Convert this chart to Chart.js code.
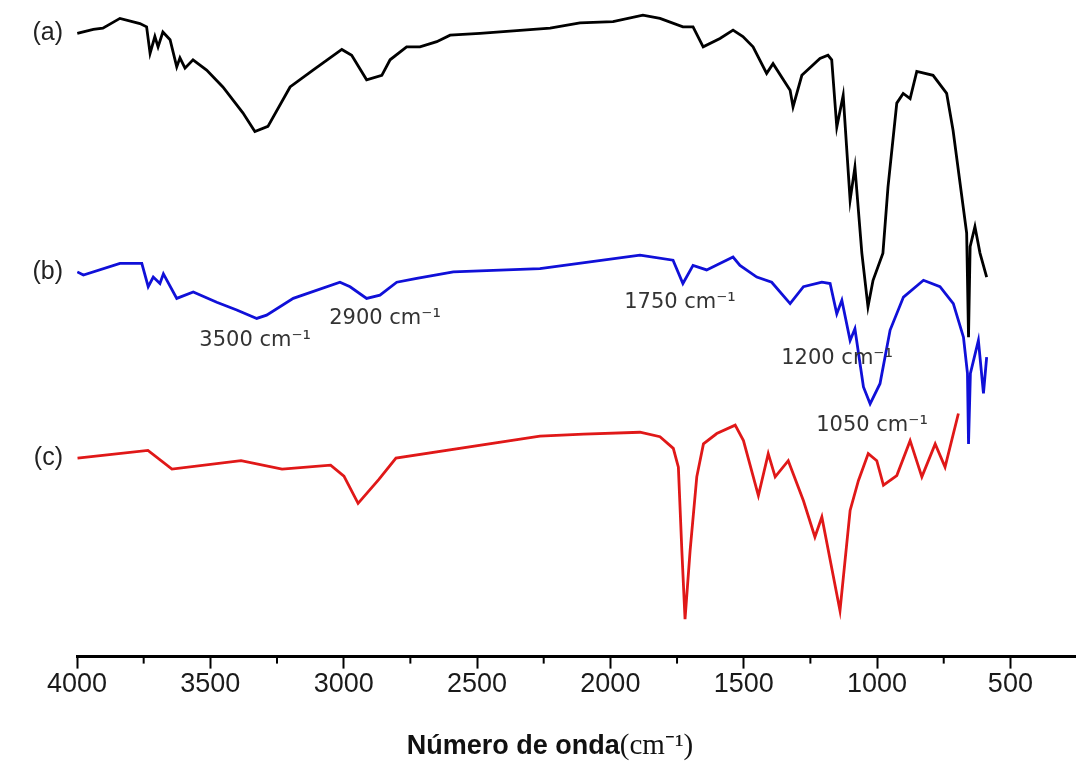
<!DOCTYPE html>
<html>
<head>
<meta charset="utf-8">
<script src="https://cdn.jsdelivr.net/npm/chart.js@4.4.0/dist/chart.umd.min.js"></script>
<style>
    html, body { margin: 0; padding: 0; background: #fff; }
    canvas { display: block; }
</style>
</head>
<body>
<canvas id="ftir" width="1076" height="767"></canvas>
<script>
// (a) black trace
const waveA = [3999, 3939, 3903, 3839, 3764, 3739, 3726, 3708, 3696, 3678, 3651, 3626, 3614, 3595, 3565, 3514, 3453, 3378, 3333, 3284,
    3201, 3115, 3007, 2970, 2914, 2857, 2826, 2764, 2714, 2651, 2601, 2489, 2226, 2114, 1990, 1878, 1814, 1728, 1690, 1652,
    1589, 1540, 1503, 1465, 1414, 1390, 1326, 1315, 1282, 1214, 1184, 1170, 1151, 1127, 1101, 1083, 1057, 1034, 1015, 978,
    959, 926, 902, 876, 851, 790, 739, 715, 664, 657, 651, 633, 614, 589];
const transA = [96.4, 97.0, 97.2, 98.7, 97.9, 97.4, 93.3, 95.9, 94.3, 96.6, 95.4, 91.2, 92.6, 91.0, 92.3, 90.7, 88.1, 84.1, 81.2, 82.0,
    88.1, 90.7, 93.9, 93.0, 89.2, 89.9, 92.3, 94.3, 94.3, 95.1, 96.1, 96.4, 97.2, 98.0, 98.2, 99.2, 98.7, 97.4, 97.4, 94.3,
    95.6, 96.9, 95.9, 94.3, 90.2, 91.7, 87.6, 85.0, 89.9, 92.5, 93.0, 92.3, 81.9, 86.8, 70.6, 75.7, 62.4, 54.1, 58.2, 62.4,
    72.6, 85.6, 87.1, 86.3, 90.5, 89.9, 87.1, 81.4, 65.5, 49.4, 63.4, 66.5, 62.4, 58.7];

// (b) blue trace
const waveB = [3999, 3976, 3839, 3757, 3733, 3714, 3689, 3676, 3626, 3564, 3476, 3401, 3326, 3289, 3189, 3014, 2976, 2914, 2864, 2801,
    2726, 2589, 2264, 1889, 1765, 1728, 1690, 1639, 1540, 1514, 1451, 1395, 1326, 1276, 1207, 1176, 1151, 1132, 1101, 1083,
    1051, 1026, 989, 951, 901, 826, 764, 714, 676, 661, 657, 650, 620, 601, 589];
const transB = [59.5, 59.0, 60.8, 60.8, 57.2, 58.7, 57.7, 59.2, 55.4, 56.4, 54.8, 53.6, 52.3, 52.8, 55.4, 57.9, 57.2, 55.4, 55.9, 57.9,
    58.5, 59.5, 60.0, 62.1, 61.3, 57.7, 60.5, 59.8, 61.8, 60.5, 58.7, 57.9, 54.6, 57.2, 57.9, 57.7, 53.0, 55.1, 48.9, 50.7,
    41.7, 39.1, 42.2, 50.5, 55.6, 58.2, 57.2, 54.6, 49.4, 43.8, 32.9, 43.8, 48.9, 40.7, 46.3];

// (c) red trace
const waveC = [3998, 3734, 3644, 3385, 3231, 3049, 2999, 2946, 2868, 2804, 2264, 2100, 1889, 1814, 1764, 1745, 1732, 1720, 1701, 1676,
    1651, 1601, 1532, 1501, 1445, 1408, 1382, 1333, 1276, 1233, 1207, 1139, 1101, 1070, 1033, 1001, 976, 926, 876, 832,
    782, 745, 695];
const transC = [30.7, 31.9, 29.0, 30.3, 29.0, 29.6, 27.9, 23.7, 27.4, 30.7, 34.1, 34.4, 34.7, 34.0, 32.2, 29.3, 16.4, 5.8, 16.4, 27.8,
    32.9, 34.5, 35.8, 33.4, 24.9, 31.4, 27.8, 30.3, 24.1, 18.5, 21.6, 7.1, 22.6, 27.2, 31.4, 30.3, 26.5, 28.0, 33.4, 27.8,
    32.9, 29.3, 37.6];

const traceLabels = ['(a)', '(b)', '(c)'];
const majorTicks = [4000, 3500, 3000, 2500, 2000, 1500, 1000, 500];
const minorTicks = [3750, 3250, 2750, 2250, 1750, 1250, 750];

const bandText = ['3500 cm⁻¹', '2900 cm⁻¹', '1750 cm⁻¹', '1200 cm⁻¹', '1050 cm⁻¹'];
const bandWave = [3332, 2845, 1739, 1150, 1019];
const bandTrans = [48.9, 52.3, 54.8, 46.1, 35.8];

const toPoints = (xs, ys) => xs.map((x, i) => ({ x: x, y: ys[i] }));

const annotationPlugin = {
    id: 'ftirText',
    afterDatasetsDraw(chart) {
        const { ctx, chartArea, scales } = chart;
        const x = scales.x, y = scales.y;
        ctx.save();

        // trace labels at the left of each spectrum
        ctx.fillStyle = '#222';
        ctx.font = '25px "Liberation Sans", Arial, sans-serif';
        ctx.textAlign = 'right';
        ctx.textBaseline = 'middle';
        [transA, transB, transC].forEach((t, i) => {
            ctx.fillText(traceLabels[i], chartArea.left - 14, y.getPixelForValue(t[0]));
        });

        // band labels
        ctx.fillStyle = '#333';
        ctx.font = '21px "DejaVu Sans", sans-serif';
        ctx.textAlign = 'center';
        bandText.forEach((txt, i) => {
            ctx.fillText(txt, x.getPixelForValue(bandWave[i]), y.getPixelForValue(bandTrans[i]));
        });

        // minor ticks
        ctx.strokeStyle = '#000';
        ctx.lineWidth = 2;
        minorTicks.forEach(v => {
            const px = x.getPixelForValue(v);
            ctx.beginPath();
            ctx.moveTo(px, chartArea.bottom);
            ctx.lineTo(px, chartArea.bottom + 7);
            ctx.stroke();
        });

        // axis title: sans bold + serif unit
        const part1 = 'Número de onda';
        const part2 = '(cm⁻¹)';
        const font1 = 'bold 27px "Liberation Sans", Arial, sans-serif';
        const font2 = '29px "Liberation Serif", serif';
        ctx.textAlign = 'left';
        ctx.textBaseline = 'alphabetic';
        ctx.font = font1;
        const w1 = ctx.measureText(part1).width;
        ctx.font = font2;
        const w2 = ctx.measureText(part2).width;
        const start = 550 - (w1 + w2) / 2;
        ctx.fillStyle = '#111';
        ctx.font = font1;
        ctx.fillText(part1, start, 754);
        ctx.font = font2;
        ctx.fillText(part2, start + w1, 754);
        ctx.restore();
    }
};

const lineSet = (label, xs, ys, color) => ({
    label: label,
    data: toPoints(xs, ys),
    borderColor: color,
    backgroundColor: color,
    borderWidth: 2.8,
    pointRadius: 0,
    tension: 0,
    fill: false
});

new Chart(document.getElementById('ftir'), {
    type: 'line',
    data: {
        datasets: [
            lineSet('(a)', waveA, transA, '#000000'),
            lineSet('(b)', waveB, transB, '#1010d8'),
            lineSet('(c)', waveC, transC, '#e01818')
        ]
    },
    options: {
        responsive: false,
        animation: false,
        layout: { padding: { left: 77, right: 0, top: 10, bottom: 66 } },
        plugins: {
            legend: { display: false },
            tooltip: { enabled: false },
            title: { display: false }
        },
        scales: {
            x: {
                type: 'linear',
                reverse: true,
                min: 254,
                max: 4000,
                afterBuildTicks: scale => {
                    scale.ticks = majorTicks.map(v => ({ value: v }));
                },
                border: { display: true, color: '#000', width: 3 },
                grid: { display: true, drawOnChartArea: false, tickLength: 12, tickWidth: 2, tickColor: '#000' },
                ticks: {
                    color: '#1a1a1a',
                    padding: 0,
                    maxRotation: 0,
                    autoSkip: false,
                    callback: value => String(value),
                    font: { family: '"Liberation Sans", Arial, sans-serif', size: 27 }
                }
            },
            y: {
                display: false,
                min: 0,
                max: 100
            }
        }
    },
    plugins: [annotationPlugin]
});
</script>
</body>
</html>
